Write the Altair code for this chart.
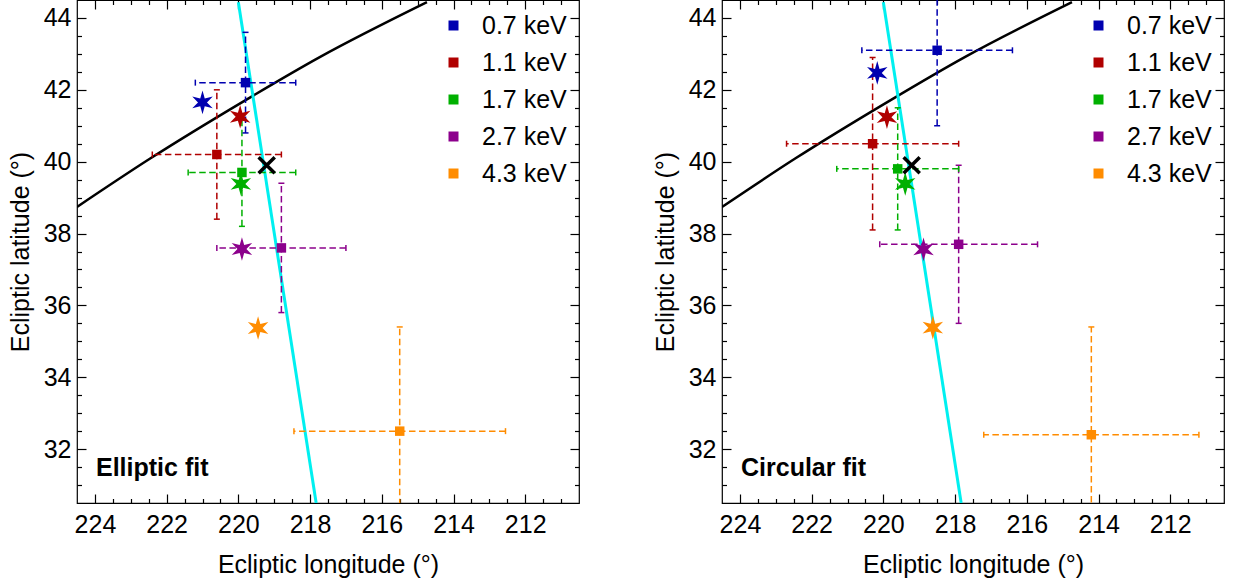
import altair as alt
import numpy as np
import pandas as pd

# ---------------- data ----------------
energies = ["0.7 keV", "1.1 keV", "1.7 keV", "2.7 keV", "4.3 keV"]
colors = ["#0000B0", "#B00000", "#00B000", "#8C008C", "#FF8C00"]

# Elliptic fit (left panel)
ell_lon = [219.8, 220.6, 219.9, 218.8, 215.5]
ell_lon_err = [1.4, 1.8, 1.5, 1.8, 2.95]
ell_lat = [42.2, 40.2, 39.7, 37.6, 32.5]
ell_lat_err = [1.4, 1.8, 1.5, 1.8, 2.9]
ell_star_lon = [221.0, 219.95, 219.93, 219.9, 219.45]
ell_star_lat = [41.65, 41.25, 39.38, 37.57, 35.37]

# Circular fit (right panel)
cir_lon = [218.5, 220.3, 219.6, 217.9, 214.2]
cir_lon_err = [2.1, 2.4, 1.7, 2.2, 3.0]
cir_lat = [43.1, 40.5, 39.8, 37.7, 32.4]
cir_lat_err = [2.1, 2.4, 1.7, 2.2, 3.0]
cir_star_lon = [220.17, 219.9, 219.39, 218.88, 218.62]
cir_star_lat = [42.47, 41.24, 39.38, 37.56, 35.38]

# black curve and cyan line (same in both panels)
curve_lon = [224.5, 222.47, 219.82, 217.73, 214.74]
curve_lat = [38.74, 40.08, 41.70, 42.91, 44.44]
cyan_lon = [220.0, 217.83]
cyan_lat = [44.44, 30.5]

# black cross
cross_lon = [219.21]
cross_lat = [39.9]

# axes
x_domain = [210.5, 224.5]
y_domain = [30.5, 44.5]
x_major = [224, 222, 220, 218, 216, 214, 212]
y_major = [32, 34, 36, 38, 40, 42, 44]
x_minor = [float(v) for v in np.arange(211.0, 224.01, 0.5)]
y_minor = [float(v) for v in np.arange(31.0, 44.01, 0.5)]

# ---------------- layout / style ----------------
W, H = 502, 503
FONT = "Liberation Sans"
STAR = ("M0,-1L0.19,-0.33L0.866,-0.5L0.38,0L0.866,0.5L0.19,0.33L0,1"
        "L-0.19,0.33L-0.866,0.5L-0.38,0L-0.866,-0.5L-0.19,-0.33Z")
CROSS = "M-1,-1L1,1M-1,1L1,-1"

xs = alt.Scale(domain=x_domain, reverse=True, nice=False, zero=False)
ys = alt.Scale(domain=y_domain, nice=False, zero=False)
cscale = alt.Scale(domain=energies, range=colors)

main_x = alt.Axis(orient="bottom", values=x_major, ticks=False, domain=False,
                  grid=False, title="Ecliptic longitude (°)", labelPadding=9,
                  titlePadding=15, labelFlush=False, labelOverlap=False)
main_y = alt.Axis(orient="left", values=y_major, ticks=False, domain=False,
                  grid=False, title="Ecliptic latitude (°)", labelPadding=6,
                  titlePadding=10, labelOverlap=False)


def tick_axis(orient, offset, values):
    return alt.Axis(
        orient=orient, offset=offset, values=values, labels=False, title=None,
        domain=False, grid=False, ticks=True, tickColor="black", tickWidth=1.2,
        tickSize={"condition": {"test": "datum.value % 2 === 0", "value": 9},
                  "value": 4.5},
        minExtent=0,
    )


def panel(lon, lon_err, lat, lat_err, slon, slat, label):
    lon = np.array(lon)
    lat = np.array(lat)
    lon_err = np.array(lon_err)
    lat_err = np.array(lat_err)
    pts = pd.DataFrame({
        "energy": energies, "lon": lon, "lat": lat,
        "lon_lo": lon - lon_err, "lon_hi": lon + lon_err,
        "lat_lo": lat - lat_err, "lat_hi": lat + lat_err,
    })
    stars = pd.DataFrame({"energy": energies, "lon": slon, "lat": slat})
    vcaps = pd.DataFrame({
        "energy": energies * 2,
        "lon": list(lon - lon_err) + list(lon + lon_err),
        "lat": list(lat) * 2,
    })
    hcaps = pd.DataFrame({
        "energy": energies * 2,
        "lon": list(lon) * 2,
        "lat": list(lat - lat_err) + list(lat + lat_err),
    })
    curve = pd.DataFrame({"lon": curve_lon, "lat": curve_lat})
    cyan = pd.DataFrame({"lon": cyan_lon, "lat": cyan_lat})
    cross = pd.DataFrame({"lon": cross_lon, "lat": cross_lat})
    txt = pd.DataFrame({"t": [label]})

    stroke = alt.Stroke("energy:N", scale=cscale, legend=None)

    black = alt.Chart(curve).mark_line(
        color="black", strokeWidth=2.5, interpolate="monotone", clip=True
    ).encode(
        x=alt.X("lon:Q", scale=xs, axis=main_x),
        y=alt.Y("lat:Q", scale=ys, axis=main_y),
    )
    cyanl = alt.Chart(cyan).mark_line(
        color="#00F0F0", strokeWidth=3, clip=True
    ).encode(
        x=alt.X("lon:Q", scale=xs, axis=tick_axis("top", -H, x_minor)),
        y=alt.Y("lat:Q", scale=ys, axis=tick_axis("right", -W, y_minor)),
    )
    hbars = alt.Chart(pts).mark_rule(
        strokeDash=[6.5, 3.5], strokeWidth=1.5, clip=True
    ).encode(
        x=alt.X("lon_lo:Q", scale=xs, axis=tick_axis("bottom", -H, x_minor)),
        x2="lon_hi:Q",
        y=alt.Y("lat:Q", scale=ys, axis=tick_axis("left", -W, y_minor)),
        stroke=stroke,
    )
    vbars = alt.Chart(pts).mark_rule(
        strokeDash=[6.5, 3.5], strokeWidth=1.5, clip=True
    ).encode(
        x=alt.X("lon:Q", scale=xs, axis=None),
        y=alt.Y("lat_lo:Q", scale=ys, axis=None),
        y2="lat_hi:Q",
        stroke=stroke,
    )
    vcap = alt.Chart(vcaps).mark_point(
        shape="M0,-1L0,1", size=36, filled=False, strokeWidth=1.5,
        opacity=1, clip=True
    ).encode(
        x=alt.X("lon:Q", scale=xs, axis=None),
        y=alt.Y("lat:Q", scale=ys, axis=None),
        stroke=stroke,
    )
    hcap = alt.Chart(hcaps).mark_point(
        shape="M-1,0L1,0", size=36, filled=False, strokeWidth=1.5,
        opacity=1, clip=True
    ).encode(
        x=alt.X("lon:Q", scale=xs, axis=None),
        y=alt.Y("lat:Q", scale=ys, axis=None),
        stroke=stroke,
    )
    squares = alt.Chart(pts).mark_square(size=90, opacity=1, filled=True).encode(
        x=alt.X("lon:Q", scale=xs, axis=None),
        y=alt.Y("lat:Q", scale=ys, axis=None),
        color=alt.Color(
            "energy:N", scale=cscale,
            legend=alt.Legend(
                orient="none", legendX=364, legendY=13, title=None,
                symbolType="square", symbolSize=100, symbolStrokeWidth=0,
                labelFontSize=25, labelFont=FONT, labelColor="black",
                labelOffset=16, rowPadding=11, padding=0,
            ),
        ),
    )
    star = alt.Chart(stars).mark_point(
        shape=STAR, size=560, filled=True, opacity=1, strokeWidth=0
    ).encode(
        x=alt.X("lon:Q", scale=xs, axis=None),
        y=alt.Y("lat:Q", scale=ys, axis=None),
        fill=alt.Fill("energy:N", scale=cscale, legend=None),
    )
    xmark = alt.Chart(cross).mark_point(
        shape=CROSS, size=260, filled=False, stroke="black", strokeWidth=3.5,
        opacity=1
    ).encode(
        x=alt.X("lon:Q", scale=xs, axis=None),
        y=alt.Y("lat:Q", scale=ys, axis=None),
    )
    text = alt.Chart(txt).mark_text(
        font=FONT, fontSize=25, fontWeight="bold", align="left",
        baseline="alphabetic", color="black"
    ).encode(
        text="t:N", x=alt.value(19), y=alt.value(476)
    )
    return alt.layer(
        black, cyanl, hbars, vbars, vcap, hcap, squares, star, xmark, text
    ).resolve_axis(x="independent", y="independent").properties(width=W, height=H)


left = panel(ell_lon, ell_lon_err, ell_lat, ell_lat_err,
             ell_star_lon, ell_star_lat, "Elliptic fit")
right = panel(cir_lon, cir_lon_err, cir_lat, cir_lat_err,
              cir_star_lon, cir_star_lat, "Circular fit")

chart = (
    alt.hconcat(left, right, spacing=71)
    .resolve_scale(color="independent")
    .resolve_legend(color="independent")
    .properties(padding={"left": 7, "top": -2, "right": 5, "bottom": 5})
    .configure(font=FONT)
    .configure_view(stroke="black", strokeWidth=1.2)
    .configure_axis(labelFont=FONT, titleFont=FONT, labelFontSize=25,
                    titleFontSize=25, titleFontWeight="normal",
                    labelColor="black", titleColor="black")
)

chart.save("out.html", embed_options={"renderer": "svg", "actions": False})
